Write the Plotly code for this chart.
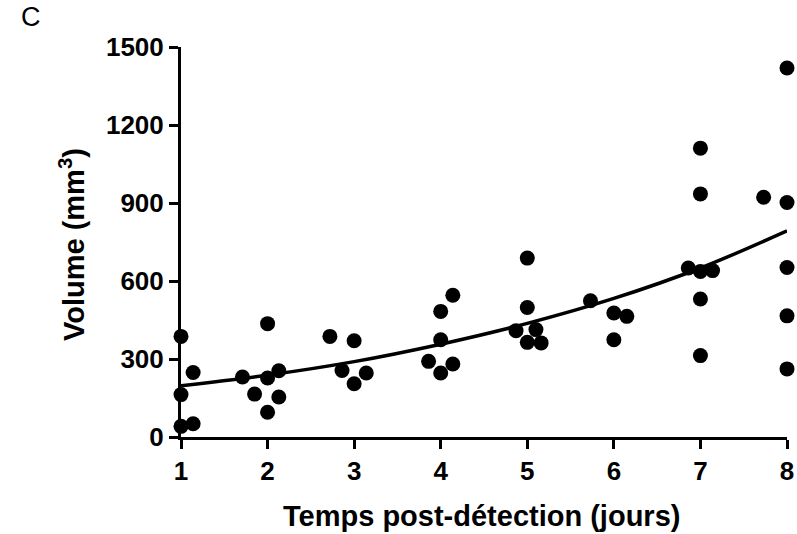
import plotly.graph_objects as go

# Observed tumour volumes (days post-detection, mm^3)
day = [1, 1.14, 1, 1, 1.14,
       2, 1.71, 2, 2.13, 1.85, 2.13, 2,
       2.72, 3, 2.86, 3.14, 3,
       4, 4, 3.86, 4.14, 4, 4.14,
       5, 5, 4.87, 5.1, 5, 5.16,
       5.73, 6, 6.15, 6,
       7, 7, 6.86, 7, 7.14, 7, 7,
       7.73, 8, 8, 8, 8, 8]
volume = [387, 248, 163, 41, 51,
          436, 231, 227, 255, 165, 154, 95,
          387, 370, 256, 246, 205,
          483, 374, 291, 281, 246, 545,
          688, 498, 409, 413, 364, 362,
          524, 477, 464, 374,
          1111, 935, 650, 637, 640, 531, 313,
          922, 1419, 902, 652, 466, 262]

# Fitted curve
fit_day = [1, 2, 3, 4, 5, 6, 7, 8]
fit_volume = [197, 238, 290, 357, 437, 533, 650, 793]

x_ticks = [1, 2, 3, 4, 5, 6, 7, 8]
y_ticks = [0, 300, 600, 900, 1200, 1500]

W, H = 797, 534
L, R, T, B = 181, 10, 47, 97
PW, PH = W - L - R, H - T - B


def px(x):
    return (x - L) / PW


def py(y):
    return (H - B - y) / PH


fig = go.Figure()
fig.add_trace(go.Scatter(x=fit_day, y=fit_volume, mode="lines",
                         line=dict(color="black", width=3.5, shape="spline"),
                         cliponaxis=False, showlegend=False))
fig.add_trace(go.Scatter(x=day, y=volume, mode="markers",
                         marker=dict(color="black", size=15),
                         cliponaxis=False, showlegend=False))

font = "Liberation Sans, Arial, sans-serif"
axis_common = dict(showline=True, linecolor="black", linewidth=3,
                   ticks="outside", ticklen=9, tickwidth=3, tickcolor="black",
                   showgrid=False, zeroline=False, automargin=False,
                   tickfont=dict(size=26, family=font, weight="bold"))
fig.update_layout(
    width=W, height=H,
    margin=dict(l=L, r=R, t=T, b=B),
    plot_bgcolor="white", paper_bgcolor="white",
    font=dict(family=font, color="black"),
    xaxis=dict(range=[1, 8], tickvals=x_ticks, ticktext=[str(v) for v in x_ticks],
               **axis_common),
    yaxis=dict(range=[0, 1500], tickvals=y_ticks, ticktext=[str(v) for v in y_ticks],
               **axis_common),
    annotations=[
        dict(text="C", x=px(31), y=py(17), xref="paper", yref="paper",
             showarrow=False, xanchor="center", yanchor="middle",
             font=dict(size=27, family=font)),
        dict(text="Temps post-détection (jours)", x=px(481), y=py(516),
             xref="paper", yref="paper", showarrow=False,
             xanchor="center", yanchor="middle",
             font=dict(size=29, family=font, weight="bold")),
        dict(text="Volume (mm<sup>3</sup>)", x=px(72), y=py(245),
             xref="paper", yref="paper", showarrow=False, textangle=-90,
             xanchor="center", yanchor="middle",
             font=dict(size=29, family=font, weight="bold")),
    ],
)

fig.write_html("out.html", config={"displayModeBar": False},
               post_script="document.body.style.margin='0';document.body.style.overflow='hidden';")
